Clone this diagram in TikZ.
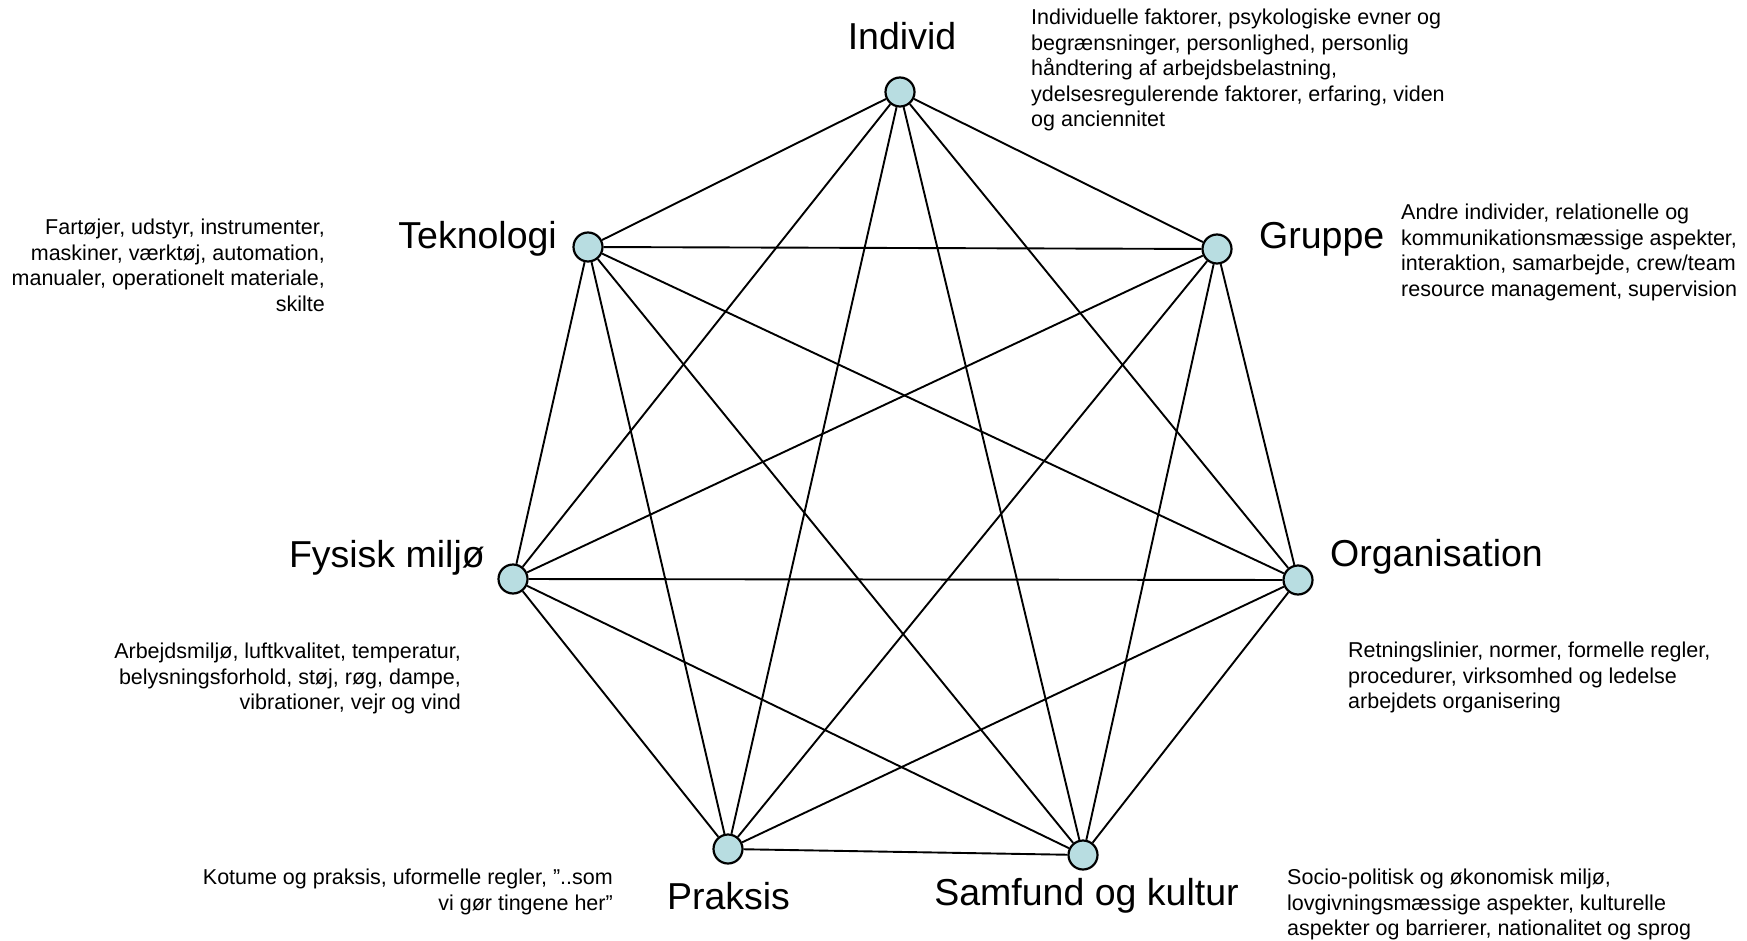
\documentclass[tikz,border=0pt]{standalone}
\usepackage{fontspec}
\setmainfont{Liberation Sans}
\definecolor{nodefill}{RGB}{184,221,225}
\begin{document}
\begin{tikzpicture}[x=1pt,y=-1pt,
  vertex/.style={circle,draw=black,line width=2.2pt,fill=nodefill,minimum size=29pt,inner sep=0pt},
  edge/.style={line width=1.9pt,black},
  title/.style={font=\fontsize{37.5}{44}\selectfont,inner sep=0pt},
  desc/.style={font=\fontsize{21.5}{25.5}\selectfont,inner sep=0pt}]
\useasboundingbox (0,0) rectangle (1747,941);
% vertices
\node[vertex] (ind) at (900,92) {};
\node[vertex] (gru) at (1217,249) {};
\node[vertex] (org) at (1298,580) {};
\node[vertex] (sam) at (1083,855) {};
\node[vertex] (pra) at (728,849) {};
\node[vertex] (fys) at (513,579) {};
\node[vertex] (tek) at (588,247) {};
% edges (complete graph)
\foreach \a/\b in {ind/gru,ind/org,ind/sam,ind/pra,ind/fys,ind/tek,
                   gru/org,gru/sam,gru/pra,gru/fys,gru/tek,
                   org/sam,org/pra,org/fys,org/tek,
                   sam/pra,sam/fys,sam/tek,
                   pra/fys,pra/tek,
                   fys/tek}
  \draw[edge] (\a) -- (\b);
% titles
\node[title,anchor=base] (tind) at (902,50) {Individ};
\node[title,anchor=base east] (ttek) at (557,249) {Teknologi};
\node[title,anchor=base west] (tgru) at (1259,249) {Gruppe};
\node[title,anchor=base west] (torg) at (1330,566) {Organisation};
\node[title,anchor=base east] (tfys) at (485,567) {Fysisk miljø};
\node[title,anchor=base] (tpra) at (728.5,909) {Praksis};
\node[title,anchor=base] (tsam) at (1086.5,905) {Samfund og kultur};
% descriptions
\node[desc,anchor=north west,align=left] (dind) at (1031,9) {Individuelle faktorer, psykologiske evner og\\begrænsninger, personlighed, personlig\\håndtering af arbejdsbelastning,\\ydelsesregulerende faktorer, erfaring, viden\\og anciennitet};
\node[desc,anchor=north east,align=right] (dtek) at (325,219) {Fartøjer, udstyr, instrumenter,\\maskiner, værktøj, automation,\\manualer, operationelt materiale,\\skilte};
\node[desc,anchor=north west,align=left] (dgru) at (1401,204) {Andre individer, relationelle og\\kommunikationsmæssige aspekter,\\interaktion, samarbejde, crew/team\\resource management, supervision};
\node[desc,anchor=north west,align=left] (dorg) at (1348,642) {Retningslinier, normer, formelle regler,\\procedurer, virksomhed og ledelse\\arbejdets organisering};
\node[desc,anchor=north east,align=right] (dfys) at (461,643) {Arbejdsmiljø, luftkvalitet, temperatur,\\belysningsforhold, støj, røg, dampe,\\vibrationer, vejr og vind};
\node[desc,anchor=north east,align=right] (dpra) at (613,869) {Kotume og praksis, uformelle regler, ”..som\\vi gør tingene her”};
\node[desc,anchor=north west,align=left] (dsam) at (1287,869) {Socio-politisk og økonomisk miljø,\\lovgivningsmæssige aspekter, kulturelle\\aspekter og barrierer, nationalitet og sprog};
\end{tikzpicture}
\end{document}
